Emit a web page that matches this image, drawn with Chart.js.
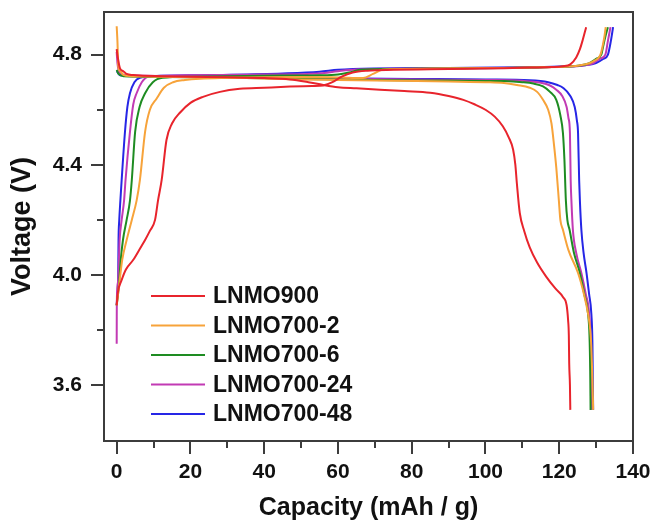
<!DOCTYPE html>
<html>
<head>
<meta charset="utf-8">
<script src="https://cdn.jsdelivr.net/npm/chart.js@4.4.1/dist/chart.umd.min.js"></script>
<style>
  html, body { margin: 0; padding: 0; background: #fff; }
  canvas { display: block; }
</style>
</head>
<body>
<canvas id="chart" width="654" height="523"></canvas>
<script>
// Sample names and axis ticks
const seriesNames = ['LNMO900', 'LNMO700-2', 'LNMO700-6', 'LNMO700-24', 'LNMO700-48'];
const xTickValues = [0, 10, 20, 30, 40, 50, 60, 70, 80, 90, 100, 110, 120, 130, 140];
const yTickValues = [3.6, 3.8, 4.0, 4.2, 4.4, 4.6, 4.8];

// LNMO900 — charge and discharge (capacity in mAh/g, voltage in V)
const capChg900 = [0, 0.3, 1.3, 2.5, 4.5, 6.5, 7.7, 9, 10.4, 11.2, 12.2, 13.5, 15, 17.2, 20, 23.4, 28, 33.4, 40, 47, 53, 56, 58.5, 61, 64, 68, 75, 85, 95, 105, 112, 118, 121, 123, 124.6, 125.6, 126.4, 127.3];
const volChg900 = [3.89, 3.935, 3.98, 4.02, 4.055, 4.1, 4.127, 4.16, 4.2, 4.27, 4.345, 4.49, 4.55, 4.59, 4.625, 4.647, 4.665, 4.676, 4.68, 4.684, 4.686, 4.688, 4.70, 4.72, 4.735, 4.742, 4.745, 4.747, 4.749, 4.751, 4.753, 4.755, 4.758, 4.765, 4.79, 4.82, 4.855, 4.90];
const capDis900 = [0, 0.3, 0.9, 1.8, 2.7, 4.5, 6.3, 12, 20, 30, 40, 47, 52, 56, 60, 65, 71.4, 78, 85, 90, 94, 97, 100, 102.5, 104.7, 106.3, 107.5, 108.1, 108.5, 109.3, 110.5, 112, 114, 116.5, 119, 121, 122, 122.4, 122.6, 122.7, 122.9, 123];
const volDis900 = [4.82, 4.79, 4.75, 4.74, 4.73, 4.726, 4.724, 4.722, 4.72, 4.718, 4.715, 4.71, 4.70, 4.69, 4.682, 4.678, 4.673, 4.668, 4.662, 4.65, 4.636, 4.62, 4.60, 4.575, 4.54, 4.50, 4.455, 4.40, 4.334, 4.225, 4.16, 4.10, 4.045, 3.993, 3.95, 3.92, 3.89, 3.836, 3.78, 3.68, 3.60, 3.51];

// LNMO700-2
const capChg700_2 = [0, 0.4, 0.8, 1.5, 2.7, 4.1, 5.4, 6.3, 7.7, 9, 10.8, 12.8, 15.3, 18.5, 22.6, 30, 40, 50, 58, 63, 66.8, 69.5, 72, 78, 85, 95, 105, 115, 121, 125, 128, 129.8, 131, 131.4, 131.9, 132.3, 132.6];
const volChg700_2 = [3.89, 3.935, 3.98, 4.055, 4.127, 4.2, 4.27, 4.345, 4.52, 4.6, 4.64, 4.68, 4.70, 4.708, 4.713, 4.716, 4.718, 4.719, 4.718, 4.716, 4.715, 4.73, 4.745, 4.748, 4.75, 4.751, 4.752, 4.754, 4.756, 4.760, 4.768, 4.78, 4.795, 4.81, 4.84, 4.87, 4.90];
const capDis700_2 = [0, 0.2, 0.45, 1.0, 1.8, 4, 10, 20, 35, 50, 60, 75, 90, 100, 105, 108.5, 112, 114, 115.6, 117, 117.9, 118.6, 119.2, 119.9, 120.3, 121, 122.5, 125.1, 126.7, 127.8, 128.4, 128.7, 129, 129.2];
const volDis700_2 = [4.903, 4.85, 4.757, 4.74, 4.727, 4.722, 4.72, 4.718, 4.715, 4.71, 4.708, 4.705, 4.703, 4.70, 4.697, 4.69, 4.68, 4.665, 4.636, 4.6, 4.55, 4.47, 4.39, 4.27, 4.2, 4.164, 4.09, 4.007, 3.93, 3.86, 3.80, 3.74, 3.62, 3.51];

// LNMO700-6
const capChg700_6 = [0, 0.4, 0.7, 1.1, 1.7, 2.7, 3.6, 4.1, 5, 6.2, 7.7, 9.8, 12.5, 20, 30, 45, 55, 60, 63, 66, 75, 90, 105, 118, 125, 128, 130, 131.4, 131.9, 132.5, 133.2];
const volChg700_6 = [3.89, 3.935, 3.98, 4.055, 4.127, 4.2, 4.27, 4.345, 4.52, 4.61, 4.66, 4.70, 4.716, 4.72, 4.722, 4.724, 4.725, 4.728, 4.735, 4.745, 4.748, 4.75, 4.752, 4.755, 4.76, 4.768, 4.785, 4.80, 4.83, 4.865, 4.90];
const capDis700_6 = [0, 0.5, 2, 10, 30, 50, 70, 90, 105, 110, 113, 115.6, 117.5, 119.2, 120.3, 121, 121.4, 121.8, 122.2, 122.8, 124, 125.6, 126.8, 127.8, 128.2, 128.4, 128.5];
const volDis700_6 = [4.745, 4.73, 4.722, 4.72, 4.716, 4.712, 4.708, 4.706, 4.704, 4.70, 4.695, 4.685, 4.665, 4.636, 4.58, 4.516, 4.42, 4.27, 4.2, 4.164, 4.08, 4.007, 3.93, 3.86, 3.78, 3.65, 3.51];

// LNMO700-24
const capChg700_24 = [0, 0.02, 0.1, 0.4, 0.6, 0.8, 1.35, 2.0, 2.4, 3.6, 4.5, 5.4, 6.8, 8.5, 20, 40, 55, 60, 65, 80, 100, 118, 126, 129, 131, 132.5, 133.2, 133.9];
const volChg700_24 = [3.75, 3.85, 3.935, 3.98, 4.055, 4.127, 4.2, 4.27, 4.345, 4.52, 4.62, 4.66, 4.70, 4.72, 4.725, 4.728, 4.732, 4.74, 4.746, 4.749, 4.751, 4.755, 4.76, 4.768, 4.785, 4.80, 4.85, 4.90];
const capDis700_24 = [0, 0.2, 0.6, 1.5, 5, 20, 40, 60, 80, 100, 110, 115, 117.5, 119.2, 120.8, 122, 122.5, 122.9, 123.1, 123.3, 123.7, 124.6, 126, 127.2, 128.1, 128.5, 128.7];
const volDis700_24 = [4.81, 4.77, 4.74, 4.728, 4.724, 4.72, 4.716, 4.713, 4.71, 4.708, 4.705, 4.698, 4.688, 4.673, 4.65, 4.61, 4.57, 4.516, 4.345, 4.27, 4.164, 4.08, 4.007, 3.93, 3.86, 3.75, 3.51];

// LNMO700-48
const capChg700_48 = [0, 0.2, 0.4, 0.45, 0.5, 0.7, 1.0, 1.35, 2.25, 2.9, 3.6, 4.8, 6.3, 10, 25, 45, 55, 60, 70, 90, 110, 120, 127, 130, 132, 133.2, 134, 134.6];
const volChg700_48 = [3.89, 3.935, 3.98, 4.055, 4.127, 4.2, 4.27, 4.345, 4.52, 4.61, 4.66, 4.70, 4.716, 4.722, 4.726, 4.732, 4.738, 4.745, 4.75, 4.752, 4.754, 4.757, 4.762, 4.77, 4.785, 4.80, 4.85, 4.90];
const capDis700_48 = [0, 1, 5, 20, 40, 60, 80, 100, 112, 117, 119.5, 121, 123, 124.2, 124.8, 125.1, 125.4, 125.6, 126, 126.6, 127.4, 128.1, 128.7, 129, 129.1, 129.2];
const volDis700_48 = [4.74, 4.725, 4.722, 4.72, 4.717, 4.714, 4.712, 4.71, 4.707, 4.70, 4.69, 4.68, 4.65, 4.61, 4.56, 4.516, 4.345, 4.27, 4.164, 4.08, 4.007, 3.93, 3.86, 3.75, 3.62, 3.51];

const seriesColors = ['#e8242c', '#f7a33a', '#1e8c22', '#c23ab4', '#2626e6'];

const curves = [
  [capChg900, volChg900, capDis900, volDis900],
  [capChg700_2, volChg700_2, capDis700_2, volDis700_2],
  [capChg700_6, volChg700_6, capDis700_6, volDis700_6],
  [capChg700_24, volChg700_24, capDis700_24, volDis700_24],
  [capChg700_48, volChg700_48, capDis700_48, volDis700_48]
];

const toPoints = (xs, ys) => xs.map((x, i) => ({ x: x, y: ys[i] }));

const datasets = [];
curves.forEach((c, i) => {
  const common = {
    label: seriesNames[i],
    borderColor: seriesColors[i],
    backgroundColor: seriesColors[i],
    borderWidth: 2,
    pointRadius: 0,
    fill: false,
    cubicInterpolationMode: 'monotone'
  };
  datasets.push(Object.assign({ data: toPoints(c[0], c[1]) }, common));
  datasets.push(Object.assign({ data: toPoints(c[2], c[3]) }, common));
});

const FONT = '"Liberation Sans", Arial, sans-serif';
const AXIS_COLOR = '#3c3c3c';

// Box frame and outward major/minor tick marks
const framePlugin = {
  id: 'frame',
  afterDatasetsDraw(chart) {
    const { ctx, chartArea: a, scales: { x, y } } = chart;
    ctx.save();
    ctx.strokeStyle = AXIS_COLOR;
    ctx.lineWidth = 2;
    ctx.strokeRect(a.left, a.top, a.right - a.left, a.bottom - a.top);
    ctx.beginPath();
    xTickValues.forEach(v => {
      const px = Math.round(x.getPixelForValue(v));
      const len = (v % 20 === 0) ? 13 : 7;
      ctx.moveTo(px, a.bottom);
      ctx.lineTo(px, a.bottom + len);
    });
    yTickValues.forEach(v => {
      const py = Math.round(y.getPixelForValue(v));
      const major = Math.abs(Math.round(v * 10) % 4) === 0;
      ctx.moveTo(a.left, py);
      ctx.lineTo(a.left - (major ? 13 : 7), py);
    });
    ctx.stroke();
    ctx.restore();
  }
};

// Legend drawn inside the plot area, one entry per sample
const legendPlugin = {
  id: 'insideLegend',
  afterDraw(chart) {
    const { ctx } = chart;
    ctx.save();
    ctx.font = 'bold 23px ' + FONT;
    ctx.textBaseline = 'middle';
    ctx.textAlign = 'left';
    seriesNames.forEach((name, i) => {
      const yy = 296 + i * 29.5;
      ctx.strokeStyle = seriesColors[i];
      ctx.lineWidth = 2;
      ctx.beginPath();
      ctx.moveTo(151, yy);
      ctx.lineTo(205, yy);
      ctx.stroke();
      ctx.fillStyle = '#111';
      ctx.fillText(name, 213, yy + 1);
    });
    ctx.restore();
  }
};

new Chart(document.getElementById('chart'), {
  type: 'line',
  data: { datasets },
  options: {
    responsive: false,
    animation: false,
    devicePixelRatio: 1,
    layout: { padding: { top: 12, right: 21, left: 0, bottom: 0 } },
    plugins: { legend: { display: false }, tooltip: { enabled: false } },
    scales: {
      x: {
        type: 'linear',
        min: -3.44,
        max: 140,
        afterBuildTicks: s => { s.ticks = xTickValues.filter(v => v % 20 === 0).map(v => ({ value: v })); },
        afterFit: s => { s.height = 82; s.paddingLeft = 0; s.paddingRight = 0; },
        grid: { display: false, drawTicks: false },
        border: { display: false },
        ticks: {
          autoSkip: false, maxRotation: 0, padding: 19, color: '#111',
          font: { family: FONT, size: 21, weight: 'bold' },
          callback: v => String(v)
        },
        title: {
          display: true, text: 'Capacity (mAh / g)', color: '#111',
          font: { family: FONT, size: 25, weight: 'bold' },
          padding: { top: 0, bottom: 0 }
        }
      },
      y: {
        type: 'linear',
        min: 3.397,
        max: 4.955,
        afterBuildTicks: s => { s.ticks = yTickValues.filter(v => Math.round(v * 10) % 4 === 0).map(v => ({ value: v })); },
        afterFit: s => { s.width = 104; s.paddingTop = 0; s.paddingBottom = 0; },
        grid: { display: false, drawTicks: false },
        border: { display: false },
        ticks: {
          autoSkip: false, padding: 22, color: '#111',
          font: { family: FONT, size: 21, weight: 'bold' },
          callback: v => v.toFixed(1)
        },
        title: {
          display: true, text: 'Voltage (V)', color: '#111',
          font: { family: FONT, size: 27, weight: 'bold' },
          padding: { top: 6, bottom: 0 }
        }
      }
    }
  },
  plugins: [framePlugin, legendPlugin]
});
</script>
</body>
</html>
